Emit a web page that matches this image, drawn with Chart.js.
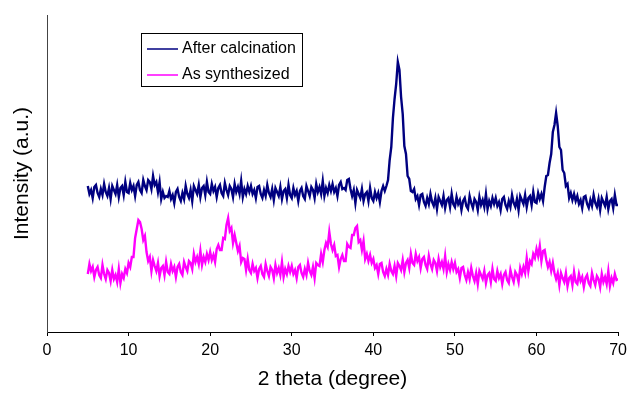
<!DOCTYPE html>
<html>
<head>
<meta charset="utf-8">
<script src="https://cdn.jsdelivr.net/npm/chart.js@4.4.1/dist/chart.umd.min.js"></script>
<style>
  body { margin: 0; background: #fff; }
  canvas { display: block; }
</style>
</head>
<body>
<canvas id="grafico" width="632" height="393"></canvas>
<script>
// 2 theta sampled from 5 to 70 degrees, every 0.2 degree
const inicio = 5;
const passo = 0.2;

// intensidade (a.u.) - after calcination, 5 pontos por grau
const aposCalcinacao = [
  146, 138, 142, 134, 145, 147, 139, 135, 143, 137,
  148, 140, 136, 144, 133, 146, 142, 138, 147, 135,
  144, 146, 137, 150, 140, 139, 149, 142, 146, 136,
  147, 150, 142, 139, 152, 146, 142, 152, 150, 143,
  156, 147, 150, 140, 150, 133, 140, 134, 136, 135,
  141, 133, 137, 129, 140, 143, 135, 131, 139, 133,
  146, 138, 134, 142, 131, 146, 142, 138, 147, 135,
  144, 146, 137, 150, 140, 138, 148, 141, 145, 135,
  144, 147, 139, 136, 149, 142, 137, 146, 143, 135,
  148, 140, 145, 138, 151, 135, 143, 138, 146, 140,
  146, 138, 142, 134, 145, 146, 138, 134, 142, 136,
  147, 139, 135, 143, 132, 144, 140, 136, 145, 133,
  141, 143, 134, 147, 137, 134, 144, 137, 141, 131,
  141, 144, 136, 133, 146, 141, 136, 145, 142, 134,
  148, 140, 145, 138, 151, 136, 144, 139, 147, 141,
  148, 140, 144, 136, 147, 150, 143, 144, 142, 152,
  153, 143, 136, 142, 129, 142, 138, 134, 143, 131,
  138, 140, 131, 144, 134, 131, 140, 134, 139, 130,
  141, 146, 141, 146, 152, 172, 185, 214, 233, 248,
  270, 262, 235, 218, 186, 178, 156, 153, 141, 140,
  143, 133, 136, 127, 137, 138, 130, 126, 134, 128,
  138, 130, 126, 134, 123, 135, 131, 127, 136, 124,
  132, 134, 125, 138, 128, 125, 135, 128, 132, 122,
  131, 134, 126, 123, 136, 129, 124, 133, 130, 122,
  135, 127, 132, 125, 138, 123, 131, 126, 134, 128,
  134, 126, 130, 122, 133, 135, 127, 123, 131, 125,
  137, 129, 125, 133, 122, 136, 132, 128, 137, 125,
  134, 136, 127, 140, 130, 129, 139, 133, 138, 131,
  145, 156, 157, 169, 178, 200, 207, 219, 206, 185,
  182, 162, 159, 146, 148, 134, 139, 132, 138, 131,
  136, 128, 132, 124, 135, 136, 128, 124, 132, 126,
  137, 129, 125, 133, 122, 134, 130, 126, 135, 123,
  131, 133, 124, 137, 127, 127
];

// intensidade (a.u.) - as synthesized, 5 pontos por grau
const comoSintetizado = [
  58, 68, 61, 65, 55, 62, 65, 57, 54, 67,
  58, 53, 62, 59, 51, 62, 53, 57, 50, 63,
  49, 58, 54, 63, 59, 69, 65, 75, 75, 94,
  103, 112, 110, 103, 92, 96, 80, 71, 75, 61,
  72, 66, 61, 69, 56, 64, 66, 57, 70, 60,
  58, 68, 61, 65, 55, 65, 68, 60, 57, 70,
  65, 61, 71, 69, 63, 78, 70, 75, 68, 81,
  67, 75, 70, 78, 72, 80, 72, 77, 70, 83,
  87, 82, 82, 94, 93, 107, 114, 101, 104, 89,
  97, 89, 81, 86, 70, 74, 73, 62, 73, 62,
  59, 68, 61, 64, 54, 63, 66, 58, 55, 68,
  61, 56, 65, 62, 54, 67, 59, 64, 57, 70,
  55, 63, 58, 66, 60, 66, 58, 62, 54, 65,
  67, 59, 55, 63, 57, 69, 61, 57, 65, 54,
  69, 67, 66, 78, 70, 82, 89, 85, 100, 88,
  82, 87, 76, 77, 65, 73, 77, 71, 71, 88,
  85, 84, 97, 97, 104, 106, 90, 92, 82, 91,
  73, 78, 71, 77, 69, 73, 64, 67, 58, 68,
  69, 60, 56, 63, 57, 68, 61, 58, 66, 56,
  69, 66, 62, 72, 60, 69, 72, 64, 78, 69,
  67, 78, 71, 75, 64, 73, 75, 67, 63, 76,
  68, 63, 72, 69, 61, 73, 65, 70, 63, 76,
  60, 68, 62, 70, 63, 69, 60, 63, 54, 64,
  65, 57, 52, 60, 53, 64, 56, 51, 59, 48,
  61, 57, 53, 61, 49, 57, 59, 50, 63, 53,
  51, 61, 54, 58, 48, 57, 60, 52, 49, 62,
  55, 50, 60, 57, 50, 64, 58, 65, 59, 74,
  61, 71, 68, 78, 74, 83, 76, 86, 71, 81,
  82, 72, 65, 70, 61, 69, 59, 53, 59, 47,
  59, 54, 50, 59, 46, 54, 56, 47, 60, 50,
  48, 58, 51, 55, 45, 54, 57, 49, 46, 59,
  52, 47, 56, 53, 45, 58, 50, 55, 48, 61,
  46, 54, 49, 58, 52, 53
];

const nomesSeries = ["After calcination", "As synthesized"];
const coresSeries = ["#000080", "#ff00ff"];
const ticksX = [0, 10, 20, 30, 40, 50, 60, 70];

Chart.defaults.font.family = "'Liberation Sans', Arial, sans-serif";
Chart.defaults.color = "#000";

function pontos(valores) {
  return valores.map((v, i) => ({ x: +(inicio + i * passo).toFixed(1), y: v }));
}

// legenda com moldura, desenhada dentro da area do grafico
const legendaCaixa = {
  id: "legendaCaixa",
  afterDraw(chart) {
    const { ctx, chartArea } = chart;
    const x0 = chartArea.left + 94;
    const y0 = chartArea.top + 18;
    ctx.save();
    ctx.strokeStyle = "#000";
    ctx.lineWidth = 1;
    ctx.strokeRect(x0 + 0.5, y0 + 0.5, 161, 53);
    ctx.font = "16px 'Liberation Sans', Arial, sans-serif";
    ctx.textBaseline = "middle";
    chart.data.datasets.forEach((ds, i) => {
      const y = y0 + 16 + i * 26;
      ctx.strokeStyle = ds.borderColor;
      ctx.lineWidth = 1.5;
      ctx.beginPath();
      ctx.moveTo(x0 + 6, y);
      ctx.lineTo(x0 + 37, y);
      ctx.stroke();
      ctx.fillStyle = "#000";
      ctx.fillText(ds.label, x0 + 41, y);
    });
    ctx.restore();
  },
};

new Chart(document.getElementById("grafico"), {
  type: "line",
  data: {
    datasets: [aposCalcinacao, comoSintetizado].map((serie, i) => ({
      label: nomesSeries[i],
      data: pontos(serie),
      borderColor: coresSeries[i],
      borderWidth: 2.4,
      borderJoinStyle: "miter",
      pointRadius: 0,
      tension: 0,
      fill: false,
    })),
  },
  options: {
    responsive: false,
    animation: false,
    layout: { padding: { top: 15, right: 11, left: 0, bottom: 0 } },
    plugins: { legend: { display: false }, tooltip: { enabled: false } },
    scales: {
      x: {
        type: "linear",
        min: 0,
        max: 70,
        afterBuildTicks: (s) => { s.ticks = ticksX.map((v) => ({ value: v })); },
        afterFit: (s) => { s.height = 61; },
        ticks: { font: { size: 16 }, padding: 5, maxRotation: 0 },
        grid: { drawOnChartArea: false, tickLength: 4, color: "#000" },
        border: { color: "#000", width: 1 },
        title: {
          display: true,
          text: "2 theta (degree)",
          font: { size: 21 },
          padding: { top: 0, bottom: 1 },
        },
      },
      y: {
        min: 0,
        max: 317,
        afterFit: (s) => { s.width = 47; },
        ticks: { display: false },
        grid: { display: false },
        border: { color: "#444", width: 1 },
        title: {
          display: true,
          text: "Intensity (a.u.)",
          font: { size: 21 },
          padding: { top: 10, bottom: 0 },
        },
      },
    },
  },
  plugins: [legendaCaixa],
});
</script>
</body>
</html>
